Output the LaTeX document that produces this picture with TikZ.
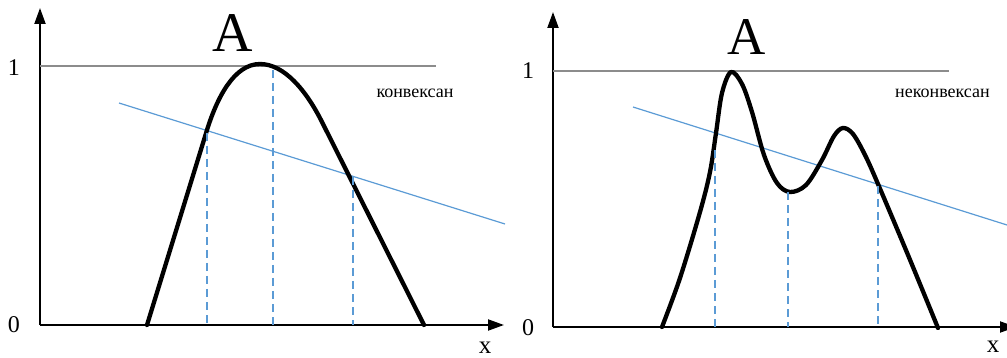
\documentclass[tikz,border=0pt]{standalone}
\usepackage{fontspec}
\setmainfont{Liberation Serif}
\usetikzlibrary{arrows.meta}
\definecolor{bl}{HTML}{5B9BD5}
\definecolor{gr}{HTML}{8C8C8C}
\tikzset{
  axis/.style={line width=2pt, -{Triangle[length=16pt,width=11pt]}},
  lvl/.style={gr, line width=1.4pt},
  cut/.style={bl, line width=1.2pt},
  drop/.style={bl, line width=1.3pt, dash pattern=on 8pt off 5pt},
  mf/.style={line width=4.3pt, line join=round, line cap=round},
  num/.style={inner sep=0pt, font=\fontsize{24pt}{24pt}\selectfont},
  xl/.style={inner sep=0pt, font=\fontsize{25pt}{25pt}\selectfont},
  big/.style={inner sep=0pt, font=\fontsize{56pt}{56pt}\selectfont},
  tag/.style={inner sep=0pt, font=\fontsize{18pt}{18pt}\selectfont},
}
\begin{document}
\begin{tikzpicture}[x=1pt,y=-1pt]
\useasboundingbox (0,0) rectangle (1007,358);
\clip (0,0) rectangle (1007,358);
% ---------- left panel ----------
\coordinate (lo) at (40,325);
\coordinate (ly) at (40,8);
\coordinate (lx) at (504,325);
\draw[axis] (lo) -- (ly);
\draw[axis] (lo) -- (lx);
\coordinate (l1a) at (40,66);
\coordinate (l1b) at (436,66);
\draw[lvl] (l1a) -- (l1b);
\coordinate (lba) at (119,103);
\coordinate (lbb) at (505,224);
\draw[cut] (lba) -- (lbb);
\node[num] (l0) at (14,325) {0};
\node[num] (l1) at (14,67.5) {1};
\node[xl] (lxl) at (485,348) {x};
\node[big] (lA) at (232.5,33.5) {A};
\node[tag] (lt) at (415,93) {конвексан};
\draw[mf] (147,325) -- (207,130) .. controls (217,98) and (234,64) .. (260,64)
  .. controls (284,64) and (306,90) .. (322,122) -- (424,325);
\coordinate (ld1t) at (207,133); \coordinate (ld1b) at (207,325);
\coordinate (ld2t) at (273,70);  \coordinate (ld2b) at (273,325);
\coordinate (ld3t) at (353,177); \coordinate (ld3b) at (353,325);
\draw[drop] (ld1t) -- (ld1b);
\draw[drop] (ld2t) -- (ld2b);
\draw[drop] (ld3t) -- (ld3b);
% ---------- right panel ----------
\coordinate (ro) at (553,327);
\coordinate (ry) at (553,12);
\coordinate (rx) at (1016,327);
\draw[axis] (ro) -- (ry);
\draw[axis] (ro) -- (rx);
\coordinate (r1a) at (553,71);
\coordinate (r1b) at (949,71);
\draw[lvl] (r1a) -- (r1b);
\coordinate (rba) at (633,107);
\coordinate (rbb) at (1007,225);
\draw[cut] (rba) -- (rbb);
\node[num] (r0) at (528,328) {0};
\node[num] (r1) at (528,70.5) {1};
\node[xl] (rxl) at (993,347) {x};
\node[big, font=\fontsize{53pt}{53pt}\selectfont] (rA) at (746.5,37.5) {A};
\node[tag] (rt) at (942.5,93) {неконвексан};
\draw[mf] plot[smooth, tension=0.55] coordinates {
  (662,327) (680,278) (700,212) (710,172) (716,133) (722,93) (731,72)
  (742,84) (752,112) (764,155) (777,183) (790,192) (806,185) (822,160)
  (834,136) (843,128) (853,134) (865,155) (878,184) (908,255) (938,328)};
\coordinate (rd1t) at (715,150); \coordinate (rd1b) at (715,327);
\coordinate (rd2t) at (788,192); \coordinate (rd2b) at (788,327);
\coordinate (rd3t) at (878,186); \coordinate (rd3b) at (878,327);
\draw[drop] (rd1t) -- (rd1b);
\draw[drop] (rd2t) -- (rd2b);
\draw[drop] (rd3t) -- (rd3b);
\end{tikzpicture}
\end{document}
